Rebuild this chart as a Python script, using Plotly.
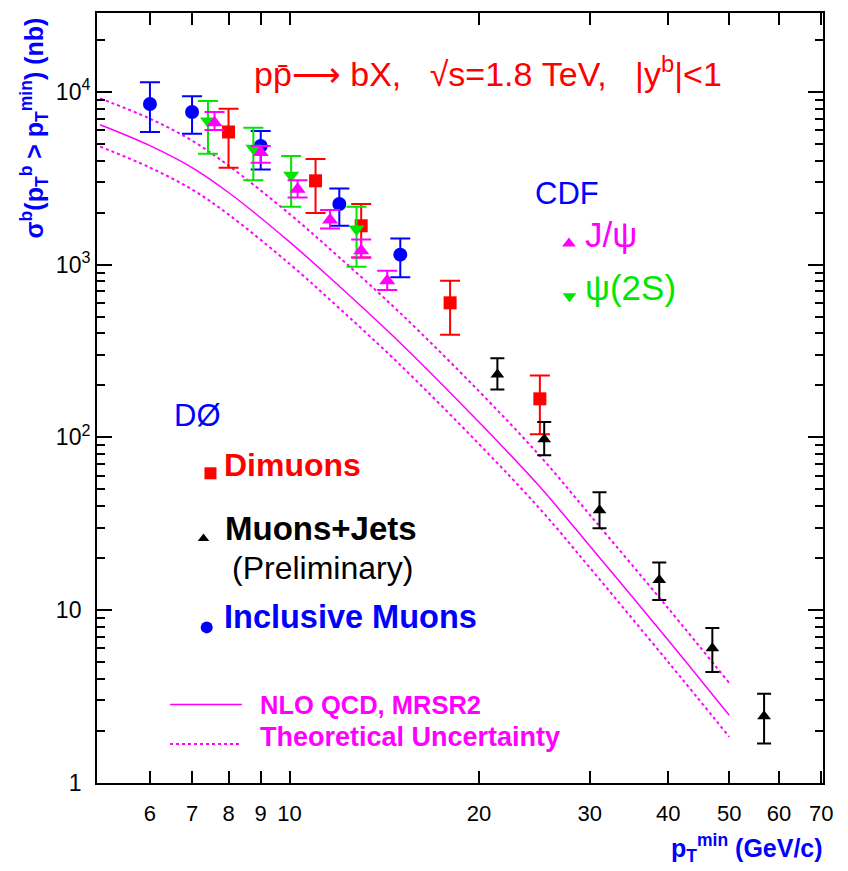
import plotly.graph_objects as go

# ---------------- data ----------------
# D0 inclusive muons (blue circles)
incl_pt = [6, 7, 9, 12, 15]
incl_val = [8530, 7660, 4875, 2244, 1143]
incl_hi = [11400, 9440, 5950, 2760, 1420]
incl_lo = [5870, 5740, 3555, 1680, 845]

# D0 dimuons (red squares)
dimu_pt = [8, 11, 13, 18, 25]
dimu_val = [5870, 3060, 1680, 601, 167]
dimu_hi = [8000, 4100, 2244, 807, 228]
dimu_lo = [3640, 1990, 1100, 392, 104]

# D0 muons+jets, preliminary (black triangles)
mj_pt = [21.4, 25.4, 31.1, 38.7, 47.0, 56.8]
mj_val = [231, 97.3, 37.8, 14.9, 6.0, 2.42]
mj_hi = [287, 122.5, 48, 18.8, 7.84, 3.27]
mj_lo = [189, 78.7, 29.7, 11.4, 4.36, 1.68]

# CDF J/psi (magenta triangles)
jpsi_pt = [7.6, 9.0, 10.3, 11.6, 13.0, 14.3]
jpsi_val = [6650, 4460, 2735, 1813, 1205, 808]
jpsi_hi = [7660, 4875, 3085, 2070, 1397, 922]
jpsi_lo = [6030, 3900, 2450, 1622, 1100, 714]

# CDF psi(2S) (green down triangles)
psi2s_pt = [7.42, 8.76, 10.06, 12.78]
psi2s_val = [6790, 4720, 3297, 1608]
psi2s_hi = [8870, 6220, 4266, 2163]
psi2s_lo = [4385, 3085, 2163, 973]

# NLO QCD MRSR2 prediction and its uncertainty band
theory_pt = [5, 6, 7, 8, 10, 12, 15, 20, 25, 30, 40, 50]
nlo_central = [6470, 4895, 3651, 2618, 1355, 750, 352, 122.5, 51.6, 23.5, 6.67, 2.45]
nlo_upper = [9185, 7010, 5230, 3750, 1967, 1102, 524, 185, 78, 35.6, 10.2, 3.77]
nlo_lower = [4830, 3651, 2725, 1953, 1011, 559, 262, 91.5, 38.5, 17.6, 4.98, 1.84]

x_tickvals = [6, 7, 8, 9, 10, 20, 30, 40, 50, 60, 70]
x_ticktext = ["6", "7", "8", "9", "10", "20", "30", "40", "50", "60", "70"]
y_tickvals = [1, 10, 100, 1000, 10000]
HID = "<sup><span style='color:rgba(0,0,0,0)'>2</span></sup>"
y_ticktext = ["1" + HID, "10" + HID, "10<sup>2</sup>", "10<sup>3</sup>", "10<sup>4</sup>"]
y_minor = [m * 10 ** e for e in range(0, 5) for m in range(2, 10) if m * 10 ** e < 30000]

# ---------------- styling ----------------
FONT = "Liberation Sans, Arial, sans-serif"
RED = "#ff0000"
BLUE = "#0000ff"
MAG = "#ff00ff"
GREEN = "#00e600"
BLACK = "#000000"

fig = go.Figure()

# theory curves
fig.add_trace(go.Scatter(x=theory_pt, y=nlo_upper, mode="lines", line=dict(color=MAG, width=2, dash="dot", shape="spline"), showlegend=False))
fig.add_trace(go.Scatter(x=theory_pt, y=nlo_lower, mode="lines", line=dict(color=MAG, width=2, dash="dot", shape="spline"), showlegend=False))
fig.add_trace(go.Scatter(x=theory_pt, y=nlo_central, mode="lines", line=dict(color=MAG, width=1.5, shape="spline"), showlegend=False))


def add_points(x, y, hi, lo, color, symbol, size, capw):
    fig.add_trace(go.Scatter(
        x=x, y=y, mode="markers",
        marker=dict(symbol=symbol, size=size, color=color, line=dict(width=0)),
        error_y=dict(type="data", symmetric=False,
                     array=[h - v for h, v in zip(hi, y)],
                     arrayminus=[v - l for v, l in zip(y, lo)],
                     color=color, thickness=2, width=capw),
        showlegend=False))


add_points(incl_pt, incl_val, incl_hi, incl_lo, BLUE, "circle", 14, 10)
add_points(dimu_pt, dimu_val, dimu_hi, dimu_lo, RED, "square", 13, 10)
add_points(mj_pt, mj_val, mj_hi, mj_lo, BLACK, "triangle-up", 12, 7)
add_points(psi2s_pt, psi2s_val, psi2s_hi, psi2s_lo, GREEN, "triangle-down", 14, 10)
add_points(jpsi_pt, jpsi_val, jpsi_hi, jpsi_lo, MAG, "triangle-up", 14, 10)

# legend keys on an overlay (0..1) axis pair
def key_marker(x, y, color, symbol, size):
    fig.add_trace(go.Scatter(x=[x], y=[y], xaxis="x2", yaxis="y2", mode="markers",
                             marker=dict(symbol=symbol, size=size, color=color, line=dict(width=0)),
                             showlegend=False, hoverinfo="skip"))


key_marker(0.1563, 0.4022, RED, "square", 12)
key_marker(0.1467, 0.3174, BLACK, "triangle-up", 10)
key_marker(0.1511, 0.2021, BLUE, "circle", 12)
key_marker(0.6501, 0.7008, MAG, "triangle-up", 12)
key_marker(0.6508, 0.6321, GREEN, "triangle-down", 12)
fig.add_trace(go.Scatter(x=[0.1006, 0.1997], y=[0.1019, 0.1019], xaxis="x2", yaxis="y2", mode="lines",
                         line=dict(color=MAG, width=1.5), showlegend=False, hoverinfo="skip"))
fig.add_trace(go.Scatter(x=[0.1006, 0.1997], y=[0.0505, 0.0505], xaxis="x2", yaxis="y2", mode="lines",
                         line=dict(color=MAG, width=2, dash="dot"), showlegend=False, hoverinfo="skip"))

# ---------------- annotations ----------------
def note(text, x, y, color, size, bold=False, xanchor="left", yanchor="middle", angle=0):
    if bold:
        text = "<b>" + text + "</b>"
    fig.add_annotation(text=text, x=x, y=y, xref="paper", yref="paper", showarrow=False,
                       xanchor=xanchor, yanchor=yanchor, textangle=angle,
                       font=dict(family=FONT, size=size, color=color))


NB = "\u00a0"
note("pp\u0304\u27f6" + NB + "bX," + NB * 3 + "\u221as=1.8" + NB + "TeV," + NB * 3 + "|y<sup>b</sup>|<1",
     0.2135, 0.9236, RED, 34)
note("CDF", 0.6006, 0.7662, BLUE, 31)
note("J/\u03c8", 0.6694, 0.7124, MAG, 35)
note("\u03c8(2S)", 0.6694, 0.6438, GREEN, 35)
note("D\u00d8", 0.1033, 0.4767, BLUE, 31)
note("Dimuons", 0.1722, 0.4132, RED, 32, bold=True)
note("Muons+Jets", 0.1736, 0.3303, BLACK, 33, bold=True)
note("(Preliminary)", 0.1832, 0.2798, BLACK, 32)
note("Inclusive Muons", 0.1722, 0.2150, BLUE, 32.5, bold=True)
note("NLO QCD, MRSR2", 0.2218, 0.1010, MAG, 25.5, bold=True)
note("Theoretical Uncertainty", 0.2218, 0.0596, MAG, 27, bold=True)
note("\u03c3<sup>b</sup>(p<sub>T</sub><sup>b</sup> > p<sub>T</sub><sup>min</sup>) (nb)",
     -0.0868, 0.9974, BLUE, 25, bold=True, xanchor="center", yanchor="top", angle=-90)
note("p<sub>T</sub><sup>min</sup> (GeV/c)", 1.0028, -0.0842, BLUE, 25, bold=True, xanchor="right")

# ---------------- axes ----------------
fig.update_layout(
    width=848, height=871,
    margin=dict(l=97, r=25, t=11, b=88),
    paper_bgcolor="white", plot_bgcolor="white",
    showlegend=False,
    xaxis=dict(type="log", range=[0.694, 1.848], tickmode="array", tickvals=x_tickvals, ticktext=x_ticktext,
               ticks="inside", ticklen=12, tickwidth=2, tickcolor=BLACK, ticklabelstandoff=10,
               showline=True, linecolor=BLACK, linewidth=2, mirror="ticks",
               showgrid=False, zeroline=False,
               tickfont=dict(family=FONT, size=22, color=BLACK)),
    yaxis=dict(type="log", range=[-0.003, 4.458], tickmode="array", tickvals=y_tickvals, ticktext=y_ticktext,
               ticks="inside", ticklen=15, tickwidth=2, tickcolor=BLACK,
               showline=True, linecolor=BLACK, linewidth=2, mirror="ticks",
               showgrid=False, zeroline=False,
               minor=dict(tickmode="array", tickvals=y_minor, ticks="inside", ticklen=8,
                          tickwidth=2, tickcolor=BLACK, showgrid=False),
               tickfont=dict(family=FONT, size=23, color=BLACK)),
    xaxis2=dict(overlaying="x", range=[0, 1], visible=False, fixedrange=True),
    yaxis2=dict(overlaying="y", range=[0, 1], visible=False, fixedrange=True),
)

fig.write_html("out.html")
